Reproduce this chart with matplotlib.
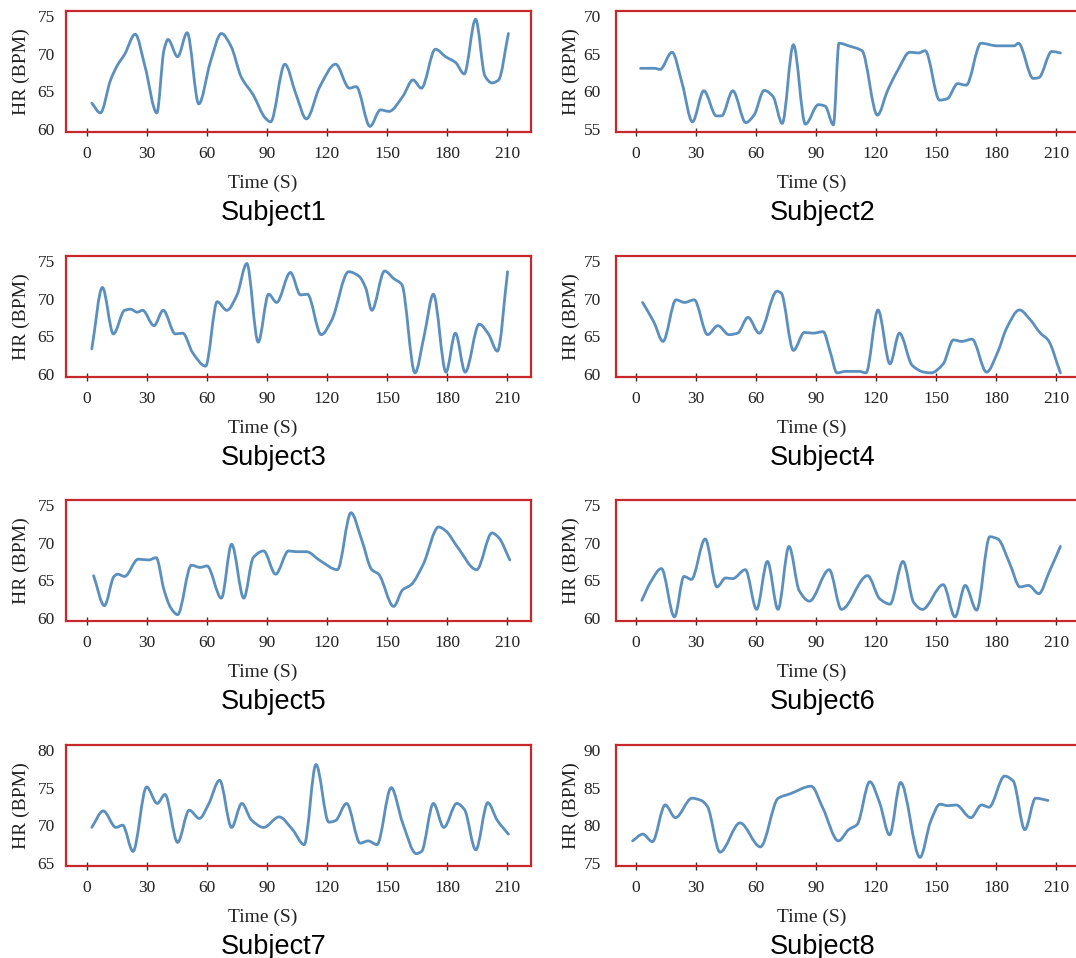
# HR traces for 8 subjects, 4x2 grid, red framed panels
import numpy as np
import matplotlib
matplotlib.use('Agg')
import matplotlib.pyplot as plt
from matplotlib.path import Path
from matplotlib.patches import PathPatch
from matplotlib.transforms import ScaledTranslation

# values (time in s, heart rate in BPM)
s1_t = [2.4, 6.7, 11.8, 15.3, 18.8, 24.1, 29.0, 34.9, 38.5, 40.5, 45.3, 50.1, 55.9, 61.6, 67.2, 72.0, 77.1, 83.1,
        89.2, 91.8, 98.9, 104.6, 109.7, 116.4, 124.3, 131.2, 134.6, 141.5, 146.7, 151.0, 157.9, 163.0, 167.2, 174.2,
        179.3, 184.4, 188.6, 194.3, 199.0, 202.5, 205.8, 210.7]
s1_hr = [63.4, 62.1, 66.5, 68.5, 69.9, 72.6, 68.3, 62.1, 70.5, 71.9, 69.6, 72.8, 63.3, 68.8, 72.7, 71.0, 66.9, 64.5,
         61.4, 60.9, 68.6, 64.5, 61.3, 65.6, 68.6, 65.4, 65.6, 60.3, 62.5, 62.3, 64.3, 66.5, 65.4, 70.6, 69.6, 68.8,
         67.3, 74.6, 67.0, 66.1, 66.5, 72.7]

s2_t = [2.3, 9.4, 12.0, 18.0, 23.1, 28.2, 33.9, 40.2, 42.8, 48.4, 54.9, 59.0, 64.1, 68.5, 73.1, 78.7, 84.7, 91.2,
        94.6, 98.7, 101.5, 106.9, 113.0, 120.7, 125.8, 130.9, 136.9, 141.2, 144.6, 151.8, 155.7, 160.8, 165.1, 172.5,
        180.5, 189.1, 191.2, 198.6, 201.4, 207.9, 212.2]
s2_hr = [63.05, 63.05, 62.9, 65.2, 61.0, 55.9, 60.05, 56.7, 56.7, 60.05, 55.8, 56.8, 60.1, 59.3, 55.7, 66.2, 55.6,
         58.2, 58.0, 55.5, 66.4, 66.0, 65.4, 56.8, 60.1, 62.8, 65.2, 65.1, 65.4, 58.8, 59.0, 61.0, 60.8, 66.4, 66.05,
         66.05, 66.4, 61.7, 61.8, 65.3, 65.1]

s3_t = [2.4, 7.7, 13.2, 18.8, 21.8, 25.1, 27.8, 33.5, 38.1, 44.2, 47.9, 52.8, 59.3, 65.1, 69.9, 75.0, 79.9, 85.6,
        90.8, 94.8, 101.7, 106.8, 110.2, 117.1, 122.3, 130.8, 136.0, 139.4, 142.4, 148.8, 153.3, 157.4, 164.0, 168.6,
        173.2, 179.5, 184.2, 189.1, 196.1, 200.7, 205.2, 210.3]
s3_hr = [63.3, 71.5, 65.3, 68.45, 68.6, 68.2, 68.45, 66.4, 68.45, 65.3, 65.4, 62.8, 61.0, 69.6, 68.45, 70.5, 74.7,
         64.2, 70.6, 69.5, 73.5, 70.5, 70.6, 65.2, 67.1, 73.6, 73.0, 71.4, 68.45, 73.7, 72.7, 71.9, 60.1, 65.1, 70.6,
         60.2, 65.4, 60.2, 66.6, 65.3, 63.0, 73.6]

s4_t = [3.3, 8.9, 13.5, 20.0, 24.3, 29.1, 35.8, 40.9, 46.5, 50.8, 56.0, 61.6, 70.5, 72.6, 78.7, 84.2, 88.5, 93.6,
        97.1, 100.5, 104.8, 111.5, 115.0, 121.0, 127.0, 131.7, 138.1, 144.0, 147.5, 153.6, 158.7, 162.9, 168.0, 175.3,
        180.9, 185.2, 191.7, 197.1, 202.2, 206.0, 212.2]
s4_hr = [69.5, 66.9, 64.3, 69.85, 69.5, 69.85, 65.2, 66.4, 65.2, 65.4, 67.5, 65.4, 71.0, 70.75, 63.1, 65.5, 65.4,
         65.6, 62.9, 60.1, 60.3, 60.3, 60.1, 68.5, 61.3, 65.4, 61.1, 60.2, 60.1, 61.3, 64.5, 64.3, 64.6, 60.2, 62.9,
         66.0, 68.5, 67.2, 65.4, 64.5, 60.1]

s5_t = [3.3, 8.7, 13.5, 15.3, 18.8, 25.6, 30.8, 34.6, 38.5, 41.9, 45.3, 52.2, 56.5, 60.0, 67.2, 72.3, 78.4, 83.1,
        88.3, 94.3, 100.8, 104.6, 109.7, 116.6, 125.2, 132.0, 137.2, 142.4, 145.8, 153.3, 157.8, 162.1, 168.1, 175.8,
        179.3, 185.3, 194.8, 202.5, 205.8, 211.4]
s5_hr = [65.6, 61.6, 65.5, 65.8, 65.5, 67.8, 67.7, 68.0, 63.7, 61.3, 60.4, 67.0, 66.7, 66.9, 62.6, 69.8, 62.6, 68.0,
         68.9, 65.8, 68.9, 68.8, 68.8, 67.6, 66.4, 74.0, 70.5, 66.4, 65.8, 61.5, 63.7, 64.4, 67.1, 72.1, 71.6, 69.4,
         66.4, 71.3, 70.7, 67.7]

s6_t = [2.9, 7.2, 12.7, 19.2, 24.0, 27.7, 34.6, 40.5, 44.8, 48.3, 54.7, 60.3, 65.7, 71.0, 76.5, 81.6, 86.7, 96.6,
        102.7, 115.8, 121.9, 127.0, 133.5, 138.9, 143.2, 153.6, 159.5, 164.6, 170.3, 176.9, 180.9, 186.9, 192.0,
        196.3, 201.4, 206.6, 212.2]
s6_hr = [62.3, 64.7, 66.55, 60.1, 65.5, 65.1, 70.5, 64.1, 65.3, 65.2, 66.4, 61.1, 67.5, 61.1, 69.5, 63.6, 62.2,
         66.4, 61.1, 65.6, 62.5, 61.8, 67.5, 62.0, 61.1, 64.4, 60.1, 64.3, 61.0, 70.8, 70.5, 67.2, 64.1, 64.3, 63.2,
         66.1, 69.5]

s7_t = [2.4, 8.1, 14.5, 17.8, 23.0, 29.8, 35.1, 39.0, 45.3, 51.1, 56.2, 60.8, 66.3, 72.3, 77.4, 82.2, 88.3, 96.0,
        102.8, 108.6, 114.5, 120.9, 124.2, 129.8, 136.6, 140.6, 145.0, 152.1, 157.8, 164.6, 167.3, 173.2, 178.4,
        184.9, 188.7, 194.4, 200.4, 205.0, 210.7]
s7_hr = [69.7, 71.9, 69.7, 70.0, 66.5, 75.1, 72.9, 74.1, 67.7, 72.0, 70.9, 72.8, 76.0, 69.7, 72.9, 70.7, 69.7,
         71.1, 69.4, 67.4, 78.1, 70.4, 70.6, 72.9, 67.6, 67.9, 67.4, 75.0, 70.3, 66.2, 66.5, 72.9, 69.7, 72.9, 72.1,
         66.7, 73.0, 70.7, 68.8]

s8_t = [-1.7, 3.4, 8.2, 14.6, 19.7, 28.0, 32.6, 35.7, 42.0, 52.0, 62.2, 71.1, 77.2, 87.6, 93.4, 101.2, 106.3, 110.6,
        116.9, 121.8, 126.8, 132.3, 142.0, 147.3, 152.0, 156.0, 160.0, 167.4, 172.8, 176.5, 184.3, 188.6, 194.4, 199.8,
        206.0]
s8_hr = [77.9, 78.8, 77.8, 82.7, 81.0, 83.6, 83.3, 82.5, 76.4, 80.3, 77.1, 83.6, 84.2, 85.2, 82.3, 77.9, 79.4, 80.1,
         85.8, 83.0, 78.7, 85.7, 75.7, 80.5, 82.8, 82.6, 82.7, 81.0, 82.7, 82.4, 86.55, 85.9, 79.4, 83.6, 83.3]

x_ticks = [0, 30, 60, 90, 120, 150, 180, 210]
y_ticks_60_75 = [60, 65, 70, 75]
y_ticks_55_70 = [55, 60, 65, 70]
y_ticks_65_80 = [65, 70, 75, 80]
y_ticks_75_90 = [75, 80, 85, 90]
subject_names = ['Subject1', 'Subject2', 'Subject3', 'Subject4',
                 'Subject5', 'Subject6', 'Subject7', 'Subject8']

LINE_COLOR = '#5b8fbd'
FRAME_COLOR = '#c8282c'
SERIF = ['Liberation Serif', 'DejaVu Serif']
SANS = ['Liberation Sans', 'DejaVu Sans']


def pchip_slopes(x, y):
    x = np.asarray(x, float)
    y = np.asarray(y, float)
    h = np.diff(x)
    d = np.diff(y) / h
    m = np.zeros_like(y)
    m[0], m[-1] = d[0], d[-1]
    for k in range(1, len(x) - 1):
        if d[k - 1] * d[k] > 0:
            w1 = 2 * h[k] + h[k - 1]
            w2 = h[k] + 2 * h[k - 1]
            m[k] = (w1 + w2) / (w1 / d[k - 1] + w2 / d[k])
    return m


def smooth_path(x, y):
    # cubic bezier segments through the read points, drawn by matplotlib itself
    m = pchip_slopes(x, y)
    verts = [(x[0], y[0])]
    codes = [Path.MOVETO]
    for i in range(len(x) - 1):
        h = x[i + 1] - x[i]
        verts += [(x[i] + h / 3, y[i] + m[i] * h / 3),
                  (x[i + 1] - h / 3, y[i + 1] - m[i + 1] * h / 3),
                  (x[i + 1], y[i + 1])]
        codes += [Path.CURVE4] * 3
    return Path(verts, codes)


def draw_panel(fig, rect, t, hr, yticks, name, xlim, ypad):
    ax = fig.add_axes(rect)
    ax.add_patch(PathPatch(smooth_path(t, hr), fill=False, edgecolor=LINE_COLOR,
                           lw=2.0, capstyle='round', joinstyle='round'))
    ax.set_xlim(*xlim)
    ax.set_ylim(yticks[0] - 0.45, yticks[-1] + 0.7)
    ax.set_xticks(x_ticks)
    ax.set_yticks(yticks)
    for sp in ax.spines.values():
        sp.set_color(FRAME_COLOR)
        sp.set_linewidth(1.6)
    ax.tick_params(axis='x', direction='inout', length=5.5, width=1.0, color='#333333',
                   pad=7, labelsize=12.5, labelcolor='#222222')
    ax.tick_params(axis='y', length=0, pad=ypad, labelsize=12.5, labelcolor='#222222')
    for lab in ax.get_xticklabels() + ax.get_yticklabels():
        lab.set_fontfamily(SERIF)

    ax.set_xlabel('Time (S)', fontsize=14, family=SERIF, color='#222222', va='center')
    ax.xaxis.set_label_coords(88, 0, transform=ax.get_xaxis_transform()
                              + ScaledTranslation(0, -0.51, fig.dpi_scale_trans))
    ax.set_ylabel('HR (BPM)', fontsize=14, family=SERIF, color='#222222', va='center')
    ax.yaxis.set_label_coords(0, 0.5, transform=ax.transAxes
                              + ScaledTranslation(-0.445, 0, fig.dpi_scale_trans))
    ax.text(93.5, 0, name, transform=ax.get_xaxis_transform()
            + ScaledTranslation(0, -0.81, fig.dpi_scale_trans),
            ha='center', va='center', fontsize=19.5, family=SANS, color='black')
    return ax


def main():
    fig = plt.figure(figsize=(10.76, 9.58), dpi=100)

    left_x, left_w = 66 / 1076, 465 / 1076
    right_x, right_w = 616 / 1076, 490 / 1076
    height = 121 / 958
    row_bottoms = [1 - 132 / 958, 1 - 377 / 958, 1 - 621 / 958, 1 - 866 / 958]
    left_lim = (-10.5, 222)
    right_lim = (-10, 235)

    series = [(s1_t, s1_hr, y_ticks_60_75), (s2_t, s2_hr, y_ticks_55_70),
              (s3_t, s3_hr, y_ticks_60_75), (s4_t, s4_hr, y_ticks_60_75),
              (s5_t, s5_hr, y_ticks_60_75), (s6_t, s6_hr, y_ticks_60_75),
              (s7_t, s7_hr, y_ticks_65_80), (s8_t, s8_hr, y_ticks_75_90)]

    for i, (t, hr, yt) in enumerate(series):
        row, col = divmod(i, 2)
        if col == 0:
            rect = [left_x, row_bottoms[row], left_w, height]
            lim, ypad = left_lim, 8
        else:
            rect = [right_x, row_bottoms[row], right_w, height]
            lim, ypad = right_lim, 11
        draw_panel(fig, rect, t, hr, yt, subject_names[i], lim, ypad)

    fig.savefig('out.png', dpi=100)
    plt.close(fig)


if __name__ == '__main__':
    main()
